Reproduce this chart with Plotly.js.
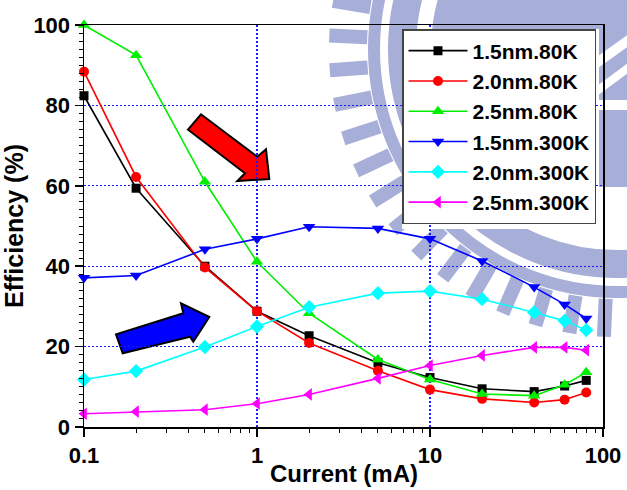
<!DOCTYPE html>
<html>
<head>
<meta charset="utf-8">
<script src="https://cdn.plot.ly/plotly-3.0.1.min.js"></script>
<style>
  html, body { margin: 0; padding: 0; background: #ffffff; }
  #chart { width: 627px; height: 490px; }
</style>
</head>
<body>
<div id="chart"></div>
<script>
// ---------- data ----------
const current = [0.1, 0.2, 0.5, 1, 2, 5, 10, 20, 40, 60, 80];
const seriesNames = ['1.5nm.80K', '2.0nm.80K', '2.5nm.80K', '1.5nm.300K', '2.0nm.300K', '2.5nm.300K'];
const eff_15nm_80K  = [82.4, 59.4, 40.0, 28.8, 22.7, 16.0, 12.3, 9.5, 8.8, 10.2, 11.6];
const eff_20nm_80K  = [88.4, 62.2, 39.7, 28.8, 20.9, 14.0, 9.3, 7.0, 6.1, 6.8, 8.6];
const eff_25nm_80K  = [100, 92.5, 61.0, 41.1, 28.3, 16.8, 11.8, 8.2, 7.8, 10.5, 13.6];
const eff_15nm_300K = [37.1, 37.7, 44.2, 46.8, 49.8, 49.4, 46.8, 41.3, 34.8, 30.5, 27.0];
const eff_20nm_300K = [11.8, 13.9, 19.9, 25.0, 29.8, 33.3, 33.8, 31.8, 28.5, 26.4, 24.1];
const eff_25nm_300K = [3.3, 3.8, 4.3, 5.8, 8.1, 12.1, 15.3, 17.8, 19.8, 19.8, 19.1];
const xTickLabels = ['0.1', '1', '10', '100'];

// ---------- styles ----------
const colors  = ['#000000', '#ff0000', '#00ee00', '#0000ff', '#00ffff', '#ff00ff'];
const symbols = ['square', 'circle', 'triangle-up', 'triangle-down', 'diamond', 'triangle-left'];
const msizes  = [9, 10, 11, 11, 11, 11];
const allY = [eff_15nm_80K, eff_20nm_80K, eff_25nm_80K, eff_15nm_300K, eff_20nm_300K, eff_25nm_300K];

const FONT = 'Liberation Sans, Arial, Helvetica, sans-serif';

const traces = allY.map((ys, i) => ({
  type: 'scatter',
  mode: 'lines+markers',
  name: seriesNames[i],
  x: current,
  y: ys,
  line: { color: colors[i], width: 1.6 },
  marker: { color: colors[i], symbol: symbols[i], size: msizes[i], line: { width: 0 } },
  cliponaxis: false
}));

// ---------- decoration geometry (page pixels -> paper units) ----------
const M = { l: 84, r: 24, t: 25, b: 63 };
const PW = 627 - M.l - M.r, PH = 490 - M.t - M.b;
function toPaper(p) { return [(p[0] - M.l) / PW, (490 - M.b - p[1]) / PH]; }
function pathOf(pts) {
  return 'M' + pts.map(p => { const q = toPaper(p); return q[0].toFixed(5) + ',' + q[1].toFixed(5); }).join('L') + 'Z';
}
const WM = '#a7aed8';
const cen = [617, 49];
const shapes = [];

// watermark: teeth
let teethPath = '';
for (let k = -1; k <= 15; k++) {
  const th = (92.6 + k * 6.93) * Math.PI / 180;
  const u = [Math.cos(th), Math.sin(th)], v = [-Math.sin(th), Math.cos(th)];
  const w = 7, r1 = 250, r2 = 288;
  const pts = [
    [cen[0] + u[0] * r1 + v[0] * w, cen[1] + u[1] * r1 + v[1] * w],
    [cen[0] + u[0] * r2 + v[0] * w, cen[1] + u[1] * r2 + v[1] * w],
    [cen[0] + u[0] * r2 - v[0] * w, cen[1] + u[1] * r2 - v[1] * w],
    [cen[0] + u[0] * r1 - v[0] * w, cen[1] + u[1] * r1 - v[1] * w]
  ];
  teethPath += pathOf(pts) + ' ';
}
shapes.push({ type: 'path', xref: 'paper', yref: 'paper', path: teethPath, fillcolor: WM, line: { width: 0 }, layer: 'below' });

// watermark: rings
function ring(r, w) {
  const a = toPaper([cen[0] - r, cen[1] + r]), b = toPaper([cen[0] + r, cen[1] - r]);
  return { type: 'circle', xref: 'paper', yref: 'paper', x0: a[0], y0: a[1], x1: b[0], y1: b[1],
           line: { color: WM, width: w }, fillcolor: 'rgba(0,0,0,0)', layer: 'below' };
}
shapes.push(ring(243, 12));
shapes.push(ring(215, 28));

// watermark: interior
const inner = [];
for (let d = 0; d < 360; d += 4) {
  const th = d * Math.PI / 180;
  inner.push([cen[0] + 186 * Math.cos(th), Math.min(cen[1] + 186 * Math.sin(th), 187)]);
}
shapes.push({ type: 'path', xref: 'paper', yref: 'paper', path: pathOf(inner), fillcolor: WM, line: { width: 0 }, layer: 'below' });
[
  [[570, 76], [640, 26], [640, 38], [570, 88]],
  [[570, 106], [640, 54], [640, 64], [570, 116]],
  [[560, 100], [640, 100], [640, 110], [560, 110]]
].forEach(p => shapes.push({ type: 'path', xref: 'paper', yref: 'paper', path: pathOf(p), fillcolor: '#ffffff', line: { width: 0 }, layer: 'below' }));

// white panel behind the legend (hides the watermark there)
const legendBox = [[402, 29], [599, 29], [599, 229], [402, 229]];
shapes.push({ type: 'path', xref: 'paper', yref: 'paper', path: pathOf(legendBox), fillcolor: '#ffffff', line: { width: 0 }, layer: 'below' });

// arrows
const redArrow  = [[201, 114.3], [188, 129.7], [245, 173.3], [237.3, 181], [269.3, 179], [266, 149.3], [257.3, 156.7]];
const blueArrow = [[116, 334.3], [122.7, 353.3], [190, 336.7], [193.3, 341.7], [209.3, 317], [181, 303.3], [183.3, 313.3]];
shapes.push({ type: 'path', xref: 'paper', yref: 'paper', path: pathOf(redArrow), fillcolor: '#ff0000', line: { color: '#000000', width: 2 }, layer: 'below' });
shapes.push({ type: 'path', xref: 'paper', yref: 'paper', path: pathOf(blueArrow), fillcolor: '#0000ff', line: { color: '#000000', width: 2 }, layer: 'below' });

const layout = {
  width: 627, height: 490,
  margin: M,
  paper_bgcolor: '#ffffff',
  plot_bgcolor: 'rgba(0,0,0,0)',
  font: { family: FONT, color: '#000000', size: 21, weight: 'bold' },
  showlegend: true,
  legend: {
    x: (402 - M.l) / PW, xanchor: 'left',
    y: (490 - M.b - 29) / PH, yanchor: 'top',
    bgcolor: '#ffffff', bordercolor: '#444444', borderwidth: 1.5,
    font: { family: FONT, size: 21, color: '#000000', weight: 'bold' },
    itemwidth: 59,
    tracegroupgap: 0
  },
  annotations: [{
    xref: 'paper', yref: 'paper', x: 0.5, y: toPaper([0, 473])[1],
    xanchor: 'center', yanchor: 'middle', showarrow: false,
    text: 'Current (mA)', font: { family: FONT, size: 24, weight: 'bold', color: '#000000' }
  }],
  xaxis: {
    type: 'log', range: [-1, 2],
    tickmode: 'array', tickvals: [0.1, 1, 10, 100], ticktext: xTickLabels,
    ticks: 'outside', ticklen: 8, tickwidth: 1.5, tickcolor: '#000000',
    minor: { ticks: 'outside', ticklen: 4, tickwidth: 1, tickcolor: '#000000', tickvals: [0.2,0.3,0.4,0.5,0.6,0.7,0.8,0.9,2,3,4,5,6,7,8,9,20,30,40,50,60,70,80,90], showgrid: false },
    showline: true, mirror: true, linecolor: '#000000', linewidth: 1.5,
    showgrid: true, gridcolor: '#1a1aff', gridwidth: 1.2, griddash: '2px,2px',
    zeroline: false,
    tickfont: { family: FONT, size: 22, weight: 'bold' }
  },
  yaxis: {
    range: [0, 100], dtick: 20, tick0: 0,
    ticks: 'outside', ticklen: 8, tickwidth: 1.5, tickcolor: '#000000',
    minor: { ticks: 'outside', ticklen: 4, tickwidth: 1, tickcolor: '#000000', dtick: 2, showgrid: false },
    showline: true, mirror: true, linecolor: '#000000', linewidth: 1.5,
    showgrid: true, gridcolor: '#1a1aff', gridwidth: 1.2, griddash: '2px,2px',
    zeroline: false,
    tickfont: { family: FONT, size: 22, weight: 'bold' },
    title: { text: 'Efficiency (%)', font: { family: FONT, size: 25, weight: 'bold' }, standoff: 8 }
  },
  shapes: shapes
};

Plotly.newPlot('chart', traces, layout, { displayModeBar: false, staticPlot: true });
</script>
</body>
</html>
